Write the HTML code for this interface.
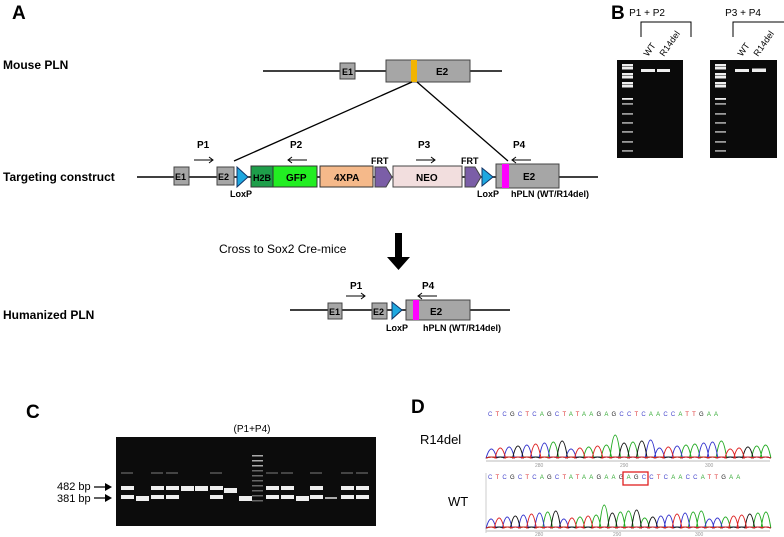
<!DOCTYPE html>
<html><head><meta charset="utf-8"><style>
body{margin:0;background:#fff}
svg{display:block}
text{font-family:"Liberation Sans",Arial,sans-serif}
.b{font-weight:bold}
</style></head><body>
<svg id="s" width="784" height="537" xmlns="http://www.w3.org/2000/svg">
<text x="12" y="19" font-size="19" class="b">A</text>
<text x="611" y="19" font-size="19" class="b">B</text>
<text x="26" y="418" font-size="19" class="b">C</text>
<text x="411" y="413" font-size="19" class="b">D</text>
<text x="3" y="69" font-size="12" class="b">Mouse PLN</text>
<text x="3" y="181" font-size="12" class="b">Targeting construct</text>
<text x="3" y="319" font-size="12" class="b">Humanized PLN</text>

<line x1="263" y1="71" x2="502" y2="71" stroke="#000" stroke-width="1.5"/>
<rect x="340" y="63" width="15" height="16" fill="#a6a6a6" stroke="#444"/>
<text x="342" y="75" font-size="9" class="b">E1</text>
<rect x="386" y="60" width="84" height="22" fill="#a6a6a6" stroke="#444"/>
<rect x="411" y="60" width="6" height="22" fill="#f2b400"/>
<text x="436" y="75" font-size="10" class="b">E2</text>
<line x1="412" y1="82" x2="234" y2="161" stroke="#000" stroke-width="1.3"/>
<line x1="417" y1="82" x2="508" y2="161" stroke="#000" stroke-width="1.3"/>

<line x1="137" y1="177" x2="598" y2="177" stroke="#000" stroke-width="1.5"/>
<rect x="174" y="167" width="15" height="18" fill="#a6a6a6" stroke="#444"/>
<text x="175" y="180" font-size="9" class="b">E1</text>
<rect x="217" y="167" width="17" height="18" fill="#a6a6a6" stroke="#444"/>
<text x="218" y="180" font-size="9" class="b">E2</text>
<polygon points="237,167 248,177 237,187" fill="#1ea8e0" stroke="#136"/>
<rect x="251" y="166" width="22" height="21" fill="#1e9e4a" stroke="#333"/>
<text x="253" y="181" font-size="9" class="b">H2B</text>
<rect x="273" y="166" width="44" height="21" fill="#22ee22" stroke="#333"/>
<text x="286" y="181" font-size="10" class="b">GFP</text>
<rect x="320" y="166" width="53" height="21" fill="#f5b98a" stroke="#333"/>
<text x="334" y="181" font-size="10" class="b">4XPA</text>
<polygon points="375,167 386,167 392,177 386,187 375,187" fill="#7b5ea7" stroke="#444"/>
<rect x="393" y="166" width="69" height="21" fill="#f2dede" stroke="#444"/>
<text x="416" y="181" font-size="10" class="b">NEO</text>
<polygon points="465,167 475,167 481,177 475,187 465,187" fill="#7b5ea7" stroke="#444"/>
<polygon points="482,168 493,177 482,186" fill="#1ea8e0" stroke="#136"/>
<rect x="496" y="164" width="63" height="24" fill="#a6a6a6" stroke="#444"/>
<rect x="502" y="164" width="7" height="24" fill="#f0f"/>
<text x="523" y="180" font-size="10" class="b">E2</text>
<text x="371" y="164" font-size="9" class="b">FRT</text>
<text x="461" y="164" font-size="9" class="b">FRT</text>
<text x="230" y="197" font-size="9" class="b">LoxP</text>
<text x="477" y="197" font-size="9" class="b">LoxP</text>
<text x="511" y="197" font-size="9" class="b">hPLN (WT/R14del)</text>
<text x="197" y="148" font-size="10" class="b">P1</text>
<text x="290" y="148" font-size="10" class="b">P2</text>
<text x="418" y="148" font-size="10" class="b">P3</text>
<text x="513" y="148" font-size="10" class="b">P4</text>
<g stroke="#000" stroke-width="1" fill="none">
<path d="M194 160H213M209 157L213 160L209 163"/>
<path d="M288 160H307M292 157L288 160L292 163"/>
<path d="M416 160H435M431 157L435 160L431 163"/>
<path d="M512 160H531M516 157L512 160L516 163"/>
<path d="M346 296H365M361 293L365 296L361 299"/>
<path d="M418 296H437M422 293L418 296L422 299"/>
</g>

<text x="219" y="253" font-size="12">Cross to Sox2 Cre-mice</text>
<polygon points="395,233 402,233 402,257 410,257 398.5,270 387,257 395,257" fill="#000"/>

<line x1="290" y1="310" x2="510" y2="310" stroke="#000" stroke-width="1.5"/>
<rect x="328" y="303" width="14" height="16" fill="#a6a6a6" stroke="#444"/>
<text x="329" y="315" font-size="9" class="b">E1</text>
<rect x="372" y="303" width="15" height="16" fill="#a6a6a6" stroke="#444"/>
<text x="373" y="315" font-size="9" class="b">E2</text>
<polygon points="392,302 402,310 392,319" fill="#1ea8e0" stroke="#136"/>
<rect x="406" y="300" width="64" height="20" fill="#a6a6a6" stroke="#444"/>
<rect x="413" y="300" width="6" height="20" fill="#f0f"/>
<text x="430" y="315" font-size="10" class="b">E2</text>
<text x="386" y="331" font-size="9" class="b">LoxP</text>
<text x="423" y="331" font-size="9" class="b">hPLN (WT/R14del)</text>
<text x="350" y="289" font-size="10" class="b">P1</text>
<text x="422" y="289" font-size="10" class="b">P4</text>

<text x="647" y="16" font-size="10" text-anchor="middle">P1 + P2</text>
<text x="743" y="16" font-size="10" text-anchor="middle">P3 + P4</text>
<path d="M641 37V22H691V37M733 37V22H784" stroke="#000" fill="none"/>
<text font-size="9" transform="translate(648,57) rotate(-55)">WT</text>
<text font-size="9" transform="translate(664,57) rotate(-55)">R14del</text>
<text font-size="9" transform="translate(742,57) rotate(-55)">WT</text>
<text font-size="9" transform="translate(758,57) rotate(-55)">R14del</text>
<rect x="617" y="60" width="66" height="98" fill="#0a0a0a"/>
<rect x="710" y="60" width="67" height="98" fill="#0a0a0a"/>
<g id="lad" fill="#ddd"></g>
<rect x="641" y="69" width="14" height="3" fill="#eee"/>
<rect x="657" y="69" width="13" height="3" fill="#eee"/>
<rect x="735" y="69" width="14" height="3" fill="#eee"/>
<rect x="752" y="68.5" width="14" height="3.5" fill="#eee"/>

<text x="252" y="432" font-size="10" text-anchor="middle">(P1+P4)</text>
<rect x="116" y="437" width="260" height="89" fill="#0c0c0c"/>
<g id="cg"></g>
<text x="57" y="490" font-size="11">482 bp</text>
<text x="57" y="502" font-size="11">381 bp</text>
<path d="M94 487H106M94 498H106" stroke="#000" stroke-width="1.3"/>
<polygon points="105,483 112,487 105,491" fill="#000"/>
<polygon points="105,494 112,498 105,502" fill="#000"/>

<text x="420" y="444" font-size="13">R14del</text>
<text x="448" y="506" font-size="13">WT</text>
<text id="sq1" x="488" y="416" font-size="6" letter-spacing="3.2"></text>
<text id="sq2" x="488" y="479" font-size="6" letter-spacing="3.2"></text>
<rect x="623" y="472" width="25" height="13" fill="none" stroke="#e02020" stroke-width="1.3"/>
<line x1="486" y1="461" x2="770" y2="461" stroke="#bbb"/>
<line x1="486" y1="531" x2="770" y2="531" stroke="#bbb"/>
<line x1="486" y1="473" x2="486" y2="533" stroke="#ccc"/>
<g font-size="5" fill="#999"><text x="535" y="467">280</text><text x="620" y="467">290</text><text x="705" y="467">300</text>
<text x="535" y="536">280</text><text x="613" y="536">290</text><text x="695" y="536">300</text></g>
<g id="tr"></g>
</svg>
<script>
var NS="http://www.w3.org/2000/svg";
function el(p,t,a){var e=document.createElementNS(NS,t);for(var k in a)e.setAttribute(k,a[k]);document.getElementById(p).appendChild(e);return e;}
[620,713].forEach(function(x){[64,67,73,76,82,85,98,103,113,122,131,141,150].forEach(function(y,i){el('lad','rect',{x:x+2,y:y,width:11,height:i<6?2.5:1.8,fill:i<7?'#eee':'#999'});});});
var lanes=[[127,'b'],[142,'l'],[157,'b'],[172,'b'],[187,'u'],[201,'u'],[216,'b'],[230,'m'],[245,'L'],[272,'b'],[287,'b'],[302,'L'],[316,'b'],[331,'f'],[347,'b'],[362,'b']];
lanes.forEach(function(l){var x=l[0]-6,t=l[1];
 if(t=='b'){el('cg','rect',{x:x,y:486,width:13,height:4,fill:'#eee'});el('cg','rect',{x:x,y:495,width:13,height:4,fill:'#eee'});el('cg','rect',{x:x,y:472,width:12,height:2,fill:'#444'});}
 if(t=='l'||t=='L')el('cg','rect',{x:x,y:496,width:13,height:5,fill:'#eee'});
 if(t=='f')el('cg','rect',{x:x,y:497,width:12,height:2,fill:'#aaa'});
 if(t=='u')el('cg','rect',{x:x,y:486,width:13,height:5,fill:'#eee'});
 if(t=='m')el('cg','rect',{x:x,y:488,width:13,height:5,fill:'#eee'});
});
for(var i=0;i<10;i++)el('cg','rect',{x:252,y:455+i*5,width:11,height:1.5,fill:i<3?'#aaa':'#666'});
var s1="CTCGCTCAGCTATAAGAGCCTCAACCATTGAA",s2="CTCGCTCAGCTATAAGAAGAGCCTCAACCATTGAA";
var col={A:'#3a3',C:'#44c',G:'#222',T:'#d33'};
[['sq1',s1],['sq2',s2]].forEach(function(q){var t=document.getElementById(q[0]);q[1].split('').forEach(function(c){var sp=document.createElementNS(NS,'tspan');sp.setAttribute('fill',col[c]);sp.textContent=c;t.appendChild(sp);});});
function tr(seq,y0,x0,w){var n=seq.length,d=w/n;var colors={A:'#2a2',C:'#33c',G:'#111',T:'#d22'};
 ['A','C','G','T'].forEach(function(b){var p='M'+x0+' '+y0;
  for(var i=0;i<n;i++){var x=x0+i*d+d/2;var h=seq[i]==b?(9+((i*37)%9)+(i==14||i==18?9:0)):1;
   p+=' L'+(x-d*0.6)+' '+y0+' Q'+x+' '+(y0-h*2)+' '+(x+d*0.6)+' '+y0;}
  el('tr','path',{d:p,fill:'none',stroke:colors[b],'stroke-width':1});});}
tr(s1,458,487,283);tr(s2,528,487,283);
</script>
</body></html>
